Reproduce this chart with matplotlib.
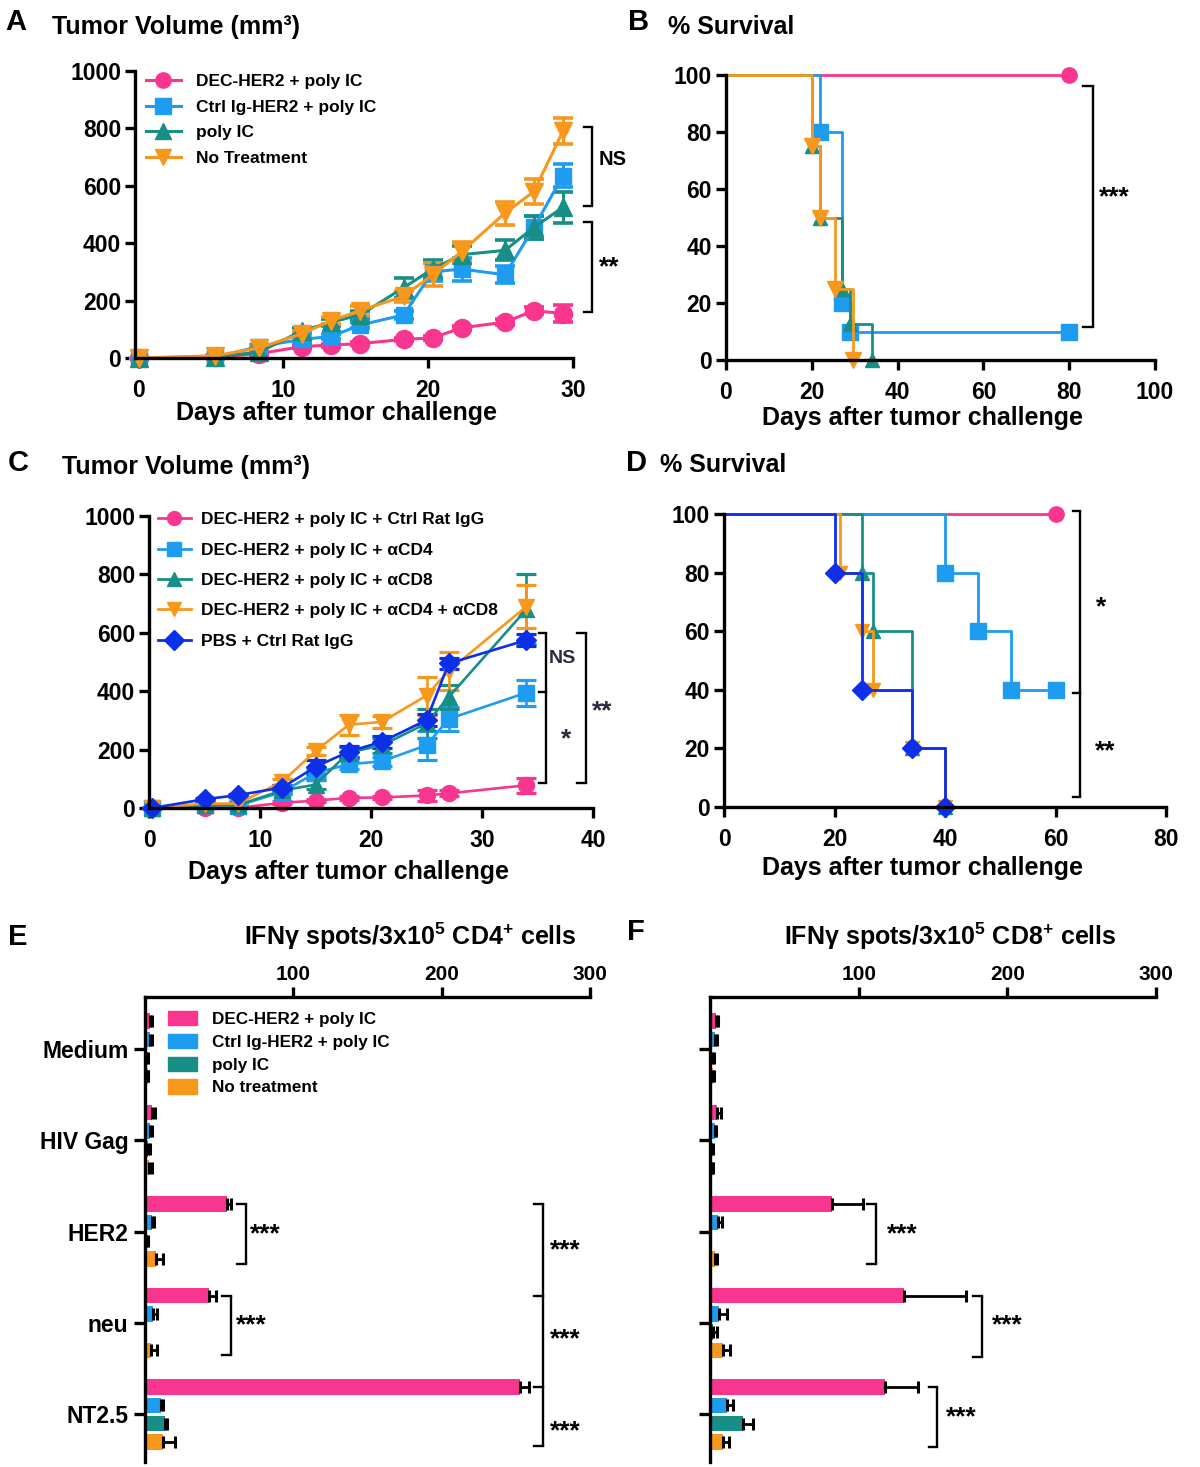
import numpy as np
import matplotlib
matplotlib.use('Agg')
import matplotlib.pyplot as plt
from matplotlib.lines import Line2D
from matplotlib.patches import Patch

plt.rcParams['font.family'] = ['Liberation Sans', 'DejaVu Sans']
plt.rcParams['font.weight'] = 'bold'
plt.rcParams['axes.labelweight'] = 'bold'
plt.rcParams['mathtext.fontset'] = 'custom'
plt.rcParams['mathtext.rm'] = 'Liberation Sans:bold'
plt.rcParams['mathtext.it'] = 'Liberation Sans:bold'
plt.rcParams['mathtext.bf'] = 'Liberation Sans:bold'
plt.rcParams['mathtext.default'] = 'rm'

PINK = '#F8368F'
BLUE = '#1E9CF0'
TEAL = '#178E86'
ORANGE = '#F7981D'
NAVY = '#0D2FE8'

# ---------------- data ----------------
# A: tumor volume, vaccine groups
groups_a = ['DEC-HER2 + poly IC', 'Ctrl Ig-HER2 + poly IC', 'poly IC', 'No Treatment']
days_a = [0, 5.3, 8.3, 11.3, 13.3, 15.3, 18.3, 20.3, 22.3, 25.3, 27.3, 29.3]
vol_a_dec = [0, 2, 15, 40, 45, 50, 65, 70, 105, 125, 165, 155]
vol_a_ctrl = [0, 3, 40, 65, 75, 115, 150, 300, 310, 290, 455, 635]
vol_a_polyic = [0, 5, 20, 95, 125, 150, 245, 310, 360, 375, 455, 525]
vol_a_none = [0, 8, 35, 85, 130, 165, 215, 290, 370, 505, 580, 790]
err_a_dec = [0, 1, 3, 5, 5, 5, 6, 6, 8, 10, 12, 30]
err_a_ctrl = [0, 2, 5, 8, 10, 10, 15, 30, 40, 30, 40, 40]
err_a_polyic = [0, 2, 5, 10, 12, 15, 35, 30, 30, 35, 40, 55]
err_a_none = [0, 3, 6, 10, 12, 15, 20, 40, 35, 40, 45, 45]

# B: survival, vaccine groups
surv_b_t = [[0, 80], [0, 22, 27, 29, 80], [0, 20, 22, 27, 29, 34], [0, 20, 22, 25.5, 29.5]]
surv_b_s = [[100, 100], [100, 80, 20, 10, 10], [100, 75, 50, 25, 12.5, 0], [100, 75, 50, 25, 0]]

# C: tumor volume, depletion groups
groups_c = ['DEC-HER2 + poly IC + Ctrl Rat IgG', 'DEC-HER2 + poly IC + \u03b1CD4',
            'DEC-HER2 + poly IC + \u03b1CD8', 'DEC-HER2 + poly IC + \u03b1CD4 + \u03b1CD8',
            'PBS + Ctrl Rat IgG']
days_c = [0.3, 5, 8, 12, 15, 18, 21, 25, 27, 34]
vol_c_igg = [0, 0, 0, 18, 25, 35, 36, 43, 50, 78]
vol_c_cd4 = [0, 10, 8, 55, 120, 150, 160, 215, 305, 395]
vol_c_cd8 = [0, 10, 10, 60, 80, 190, 215, 290, 380, 680]
vol_c_both = [0, 15, 15, 90, 195, 285, 295, 385, 470, 690]
vol_c_pbs = [0, 30, 44, 70, 141, 193, 227, 301, 495, 575]
err_c_igg = [0, 0, 0, 5, 6, 6, 6, 20, 10, 25]
err_c_cd4 = [0, 3, 3, 8, 15, 15, 15, 50, 40, 45]
err_c_cd8 = [0, 3, 3, 10, 15, 20, 25, 50, 40, 120]
err_c_both = [0, 5, 5, 10, 15, 35, 20, 65, 65, 75]
err_c_pbs = [0, 5, 5, 8, 25, 20, 20, 20, 20, 20]

# D: survival, depletion groups
surv_d_t = [[0, 60], [0, 40, 46, 52, 60], [0, 25, 27, 34, 40],
            [0, 21, 25, 27, 34, 40], [0, 20, 25, 34, 40]]
surv_d_s = [[100, 100], [100, 80, 60, 40, 40], [100, 80, 60, 20, 0],
            [100, 80, 60, 40, 20, 0], [100, 80, 40, 20, 0]]

# E / F: ELISPOT
antigens = ['Medium', 'HIV Gag', 'HER2', 'neu', 'NT2.5']
groups_ef = ['DEC-HER2 + poly IC', 'Ctrl Ig-HER2 + poly IC', 'poly IC', 'No treatment']
cd4_vals = [[3.6, 4.9, 55.5, 43, 253],
            [3.1, 3.1, 4.5, 5.6, 10.6],
            [1.0, 1.8, 0.7, 0, 13.5],
            [1.8, 2.6, 7.4, 4, 12.4]]
cd4_err = [[1.3, 1.6, 2.5, 5, 6],
           [1.8, 1.3, 1.8, 2.3, 1.8],
           [0.8, 1.8, 1.0, 0, 1.5],
           [0.5, 1.8, 5, 3.9, 7.6]]
cd8_vals = [[3.9, 4.7, 82, 130.5, 118],
            [3.4, 3.1, 5.2, 5.9, 11.1],
            [1.3, 1.0, 0, 1.8, 22],
            [1.8, 1.3, 3.4, 8.5, 9]]
cd8_err = [[1.3, 2.5, 21, 42, 22],
           [1.3, 0.8, 2.6, 5.7, 4.4],
           [1.3, 0.8, 0, 2.6, 7],
           [1.0, 0.8, 1.5, 5.2, 3.9]]

W, H = 1200, 1467
fig = plt.figure(figsize=(W / 100, H / 100), dpi=100)

TICK = 16.5
LAB = 18


def rect(left, top, right, bottom):
    return [left / W, 1 - bottom / H, (right - left) / W, (bottom - top) / H]


def ftext(x, y, s, size, ha='left'):
    fig.text(x / W, 1 - y / H, s, fontsize=size, fontweight='bold', ha=ha, va='center')


def style(ax, lw=2.4):
    for s in ['top', 'right']:
        ax.spines[s].set_visible(False)
    for s in ['left', 'bottom']:
        ax.spines[s].set_linewidth(lw)
    ax.tick_params(width=lw, length=7, labelsize=TICK, pad=3)


def bracket(ax, x, ys, tick, lw=1.7):
    ax.plot([x, x], [min(ys), max(ys)], color='k', lw=lw, clip_on=False, solid_capstyle='butt')
    for y in ys:
        ax.plot([x - tick, x], [y, y], color='k', lw=lw, clip_on=False)


def stars(ax, x, y, s, size=19, ha='left', color='k'):
    ax.text(x, y, s, fontsize=size, fontweight='bold', ha=ha, va='center', color=color, clip_on=False)


def curves(ax, x, ys, errs, colors, markers, sizes, lw):
    for y, e, c, m, s in zip(ys, errs, colors, markers, sizes):
        cont = ax.errorbar(x, y, yerr=e, color=c, marker=m, ms=s, lw=lw,
                           capsize=7, capthick=lw + 0.4, elinewidth=lw, mec=c)
        for art in cont.get_children():
            art.set_clip_on(False)


def survival(ax, ts, ss, colors, markers, sizes):
    for t, s, c, m, ms in zip(ts, ss, colors, markers, sizes):
        ax.step(t, s, where='post', color=c, lw=2, clip_on=False)
        ax.plot(t[1:], s[1:], ls='none', marker=m, ms=ms, color=c, clip_on=False)


# ---------------- A ----------------
axA = fig.add_axes(rect(135, 71, 573, 358))
cols4 = [PINK, BLUE, TEAL, ORANGE]
mk4 = ['o', 's', '^', 'v']
curves(axA, days_a, [vol_a_dec, vol_a_ctrl, vol_a_polyic, vol_a_none],
       [err_a_dec, err_a_ctrl, err_a_polyic, err_a_none], cols4, mk4, [13, 12, 13, 13], 2.2)
axA.set_xlim(-0.25, 30)
axA.set_ylim(0, 1000)
axA.set_xticks([0, 10, 20, 30])
axA.set_yticks([0, 200, 400, 600, 800, 1000])
style(axA)
axA.tick_params(axis='x', pad=8)
hA = [Line2D([], [], color=c, marker=m, ms=11, lw=2.2) for c, m in zip(cols4, mk4)]
fig.legend(hA, groups_a, loc='upper left', bbox_to_anchor=(146 / W, 1 - 74 / H),
           frameon=False, fontsize=12.5, handlelength=2.0, handletextpad=0.9,
           labelspacing=0.6, borderpad=0, borderaxespad=0)
bracket(axA, 31.3, [804, 528], 0.55)
bracket(axA, 31.3, [475, 161], 0.55)
stars(axA, 31.8, 690, 'NS', size=14.5)
stars(axA, 31.8, 316, '**')
ftext(5, 22, 'A', 21)
ftext(52, 27, 'Tumor Volume (mm\u00b3)', LAB)
ftext(337, 413, 'Days after tumor challenge', LAB, ha='center')

# ---------------- B ----------------
axB = fig.add_axes(rect(726, 75, 1155, 360))
survival(axB, surv_b_t, surv_b_s, cols4, mk4, [11, 11, 10, 11])
axB.set_xlim(0, 100)
axB.set_ylim(0, 100)
axB.set_xticks([0, 20, 40, 60, 80, 100])
axB.set_yticks([0, 20, 40, 60, 80, 100])
style(axB)
axB.tick_params(axis='x', pad=8)
bracket(axB, 85.5, [96, 11.7], 2.3)
stars(axB, 87.0, 57, '***')
ftext(628, 22, 'B', 21)
ftext(668, 27, '% Survival', LAB)
ftext(923, 418, 'Days after tumor challenge', LAB, ha='center')

# ---------------- C ----------------
axC = fig.add_axes(rect(149, 516, 593, 808))
cols5 = [PINK, BLUE, TEAL, ORANGE, NAVY]
mk5 = ['o', 's', '^', 'v', 'D']
curves(axC, days_c, [vol_c_igg, vol_c_cd4, vol_c_cd8, vol_c_both, vol_c_pbs],
       [err_c_igg, err_c_cd4, err_c_cd8, err_c_both, err_c_pbs], cols5, mk5,
       [11.5, 11, 11.5, 11.5, 10], 1.9)
axC.set_xlim(0, 40)
axC.set_ylim(0, 1000)
axC.set_xticks([0, 10, 20, 30, 40])
axC.set_yticks([0, 200, 400, 600, 800, 1000])
style(axC)
axC.tick_params(axis='x', pad=8)
hC = [Line2D([], [], color=c, marker=m, ms=10, lw=2.0) for c, m in zip(cols5, mk5)]
fig.legend(hC, groups_c, loc='upper left', bbox_to_anchor=(158 / W, 1 - 512 / H),
           frameon=False, fontsize=12.5, handlelength=1.9, handletextpad=0.6,
           labelspacing=0.88, borderpad=0, borderaxespad=0)
bracket(axC, 35.8, [600, 398, 87], 0.7)
bracket(axC, 39.4, [600, 87], 0.8)
stars(axC, 37.2, 513, 'NS', size=14, ha='center', color='#2a2a40')
stars(axC, 37.6, 236, '*', ha='center', color='#2a2a40')
stars(axC, 40.8, 330, '**', ha='center', color='#2a2a40')
ftext(8, 463, 'C', 21)
ftext(62, 467, 'Tumor Volume (mm\u00b3)', LAB)
ftext(349, 872, 'Days after tumor challenge', LAB, ha='center')

# ---------------- D ----------------
axD = fig.add_axes(rect(724, 514, 1166, 807))
survival(axD, surv_d_t, surv_d_s, cols5, mk5, [11, 11, 10, 10, 10])
axD.set_xlim(0, 80)
axD.set_ylim(0, 100)
axD.set_xticks([0, 20, 40, 60, 80])
axD.set_yticks([0, 20, 40, 60, 80, 100])
style(axD)
axD.tick_params(axis='x', pad=8)
bracket(axD, 64.4, [101, 39, 3.4], 1.3)
stars(axD, 68.3, 68, '*', ha='center')
stars(axD, 69.0, 19, '**', ha='center')
ftext(626, 463, 'D', 21)
ftext(660, 465, '% Survival', LAB)
ftext(923, 868, 'Days after tumor challenge', LAB, ha='center')


# ---------------- E / F ----------------
def elispot(ax, vals, errs, labels):
    pos = np.arange(len(antigens))
    offs = [-0.3, -0.1, 0.1, 0.3]
    for v, e, c, o in zip(vals, errs, cols4, offs):
        v = np.array(v, dtype=float)
        e = np.array(e, dtype=float)
        ax.barh(pos + o, v, height=0.17, color=c, zorder=2)
        keep = v > 0
        ax.errorbar(v[keep], (pos + o)[keep], xerr=[np.zeros(keep.sum()), e[keep]],
                    fmt='none', ecolor='k', elinewidth=2, capsize=4, capthick=2.2, zorder=3)
    ax.set_xlim(0, 300)
    ax.set_ylim(4.52, -0.565)
    ax.set_yticks(pos)
    ax.set_yticklabels(antigens if labels else [])
    ax.xaxis.tick_top()
    ax.set_xticks([100, 200, 300])
    for s in ['bottom', 'right']:
        ax.spines[s].set_visible(False)
    for s in ['left', 'top']:
        ax.spines[s].set_linewidth(2.4)
    ax.tick_params(axis='y', width=2.4, length=8, labelsize=16.5, pad=4)
    ax.tick_params(axis='x', width=2.4, length=7, labelsize=15, pad=2)


axE = fig.add_axes(rect(145, 997, 590, 1462))
elispot(axE, cd4_vals, cd4_err, True)
hE = [Patch(color=c) for c in cols4]
fig.legend(hE, groups_ef, loc='upper left', bbox_to_anchor=(168 / W, 1 - 1011 / H),
           frameon=False, fontsize=12.3, handlelength=1.7, handleheight=0.9,
           handletextpad=0.9, labelspacing=0.4, borderpad=0, borderaxespad=0)
bracket(axE, 68, [1.7, 2.36], 6)
bracket(axE, 57.8, [2.7, 3.35], 6)
bracket(axE, 268, [1.7, 2.7, 3.7, 4.35], 6)
for x, y in [(71, 2.03), (61, 3.03), (273, 2.2), (273, 3.18), (273, 4.18)]:
    stars(axE, x, y, '***')
ftext(8, 937, 'E', 21)
ftext(410, 936, 'IFN\u03b3 spots/3x10$^{5}$ CD4$^{+}$ cells', LAB, ha='center')

axF = fig.add_axes(rect(710, 997, 1156, 1462))
elispot(axF, cd8_vals, cd8_err, False)
bracket(axF, 111.7, [1.7, 2.36], 6)
bracket(axF, 183, [2.7, 3.37], 6)
bracket(axF, 153, [3.7, 4.36], 6)
for x, y in [(119, 2.03), (190, 3.03), (159, 4.03)]:
    stars(axF, x, y, '***')
ftext(627, 932, 'F', 21)
ftext(950, 936, 'IFN\u03b3 spots/3x10$^{5}$ CD8$^{+}$ cells', LAB, ha='center')

fig.savefig('out.png', dpi=100)
